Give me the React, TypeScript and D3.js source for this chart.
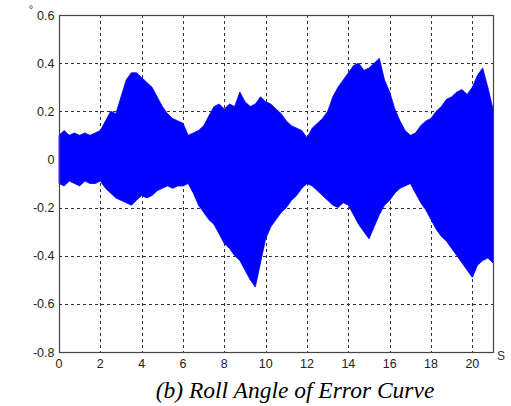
import React, { useEffect, useRef } from 'react';
import * as d3 from 'd3';

// time axis (s), sampled every 0.25 s
const times: number[] = d3.range(0, 21.001, 0.25).map(t => +t.toFixed(2));

// upper envelope of the roll angle error (deg)
const upper: number[] = [
  0.10, 0.12, 0.10, 0.11, 0.10, 0.11, 0.10, 0.11, 0.12, 0.16,
  0.20, 0.19, 0.26, 0.33, 0.36, 0.36, 0.34, 0.32, 0.30, 0.26,
  0.22, 0.19, 0.17, 0.16, 0.15, 0.10, 0.11, 0.12, 0.14, 0.18,
  0.22, 0.23, 0.21, 0.23, 0.22, 0.28, 0.24, 0.22, 0.23, 0.26,
  0.24, 0.23, 0.21, 0.19, 0.16, 0.14, 0.13, 0.12, 0.09, 0.13,
  0.15, 0.17, 0.20, 0.26, 0.30, 0.33, 0.36, 0.39, 0.40, 0.37,
  0.38, 0.40, 0.42, 0.33, 0.28, 0.21, 0.16, 0.12, 0.10, 0.11,
  0.14, 0.16, 0.17, 0.20, 0.22, 0.25, 0.26, 0.28, 0.29, 0.27,
  0.30, 0.35, 0.38, 0.30, 0.21,
];

// lower envelope of the roll angle error (deg)
const lower: number[] = [
  -0.10, -0.11, -0.09, -0.10, -0.11, -0.09, -0.10, -0.10, -0.09, -0.12,
  -0.14, -0.16, -0.17, -0.18, -0.19, -0.17, -0.15, -0.16, -0.15, -0.13,
  -0.12, -0.11, -0.12, -0.11, -0.11, -0.10, -0.14, -0.19, -0.22, -0.25,
  -0.27, -0.31, -0.35, -0.37, -0.40, -0.42, -0.46, -0.50, -0.53, -0.43,
  -0.33, -0.28, -0.25, -0.22, -0.20, -0.17, -0.15, -0.12, -0.10, -0.11,
  -0.13, -0.15, -0.17, -0.19, -0.20, -0.18, -0.19, -0.23, -0.27, -0.30,
  -0.33, -0.28, -0.23, -0.19, -0.17, -0.14, -0.12, -0.11, -0.10, -0.14,
  -0.18, -0.21, -0.25, -0.29, -0.32, -0.34, -0.37, -0.40, -0.43, -0.46,
  -0.49, -0.44, -0.42, -0.41, -0.43,
];

const xTicks = [0, 2, 4, 6, 8, 10, 12, 14, 16, 18, 20];
const yTicks = [-0.8, -0.6, -0.4, -0.2, 0, 0.2, 0.4, 0.6];

const App = () => {
  const svgRef = useRef<SVGSVGElement>(null);

  useEffect(() => {
    if (!svgRef.current) return;
    const svg = d3.select(svgRef.current);
    svg.selectAll('*').remove();

    const left = 59, right = 493, top = 15, bottom = 352;

    const x = d3.scaleLinear().domain([0, 21]).range([left, right]);
    const y = d3.scaleLinear().domain([-0.8, 0.6]).range([bottom, top]);

    // grid
    const grid = svg.append('g')
      .attr('stroke', '#333')
      .attr('stroke-width', 1)
      .attr('stroke-dasharray', '3,3');
    grid.selectAll('line.v')
      .data(xTicks.filter(t => t > 0))
      .join('line')
      .attr('class', 'v')
      .attr('x1', d => Math.round(x(d)) + 0.5)
      .attr('x2', d => Math.round(x(d)) + 0.5)
      .attr('y1', top)
      .attr('y2', bottom);
    grid.selectAll('line.h')
      .data(yTicks.filter(t => t > -0.8 && t < 0.6))
      .join('line')
      .attr('class', 'h')
      .attr('x1', left)
      .attr('x2', right)
      .attr('y1', d => Math.round(y(d)) + 0.5)
      .attr('y2', d => Math.round(y(d)) + 0.5);

    // signal envelope
    const data = times.map((t, i) => ({ t, hi: upper[i], lo: lower[i] }));
    const area = d3.area<{ t: number; hi: number; lo: number }>()
      .x(d => x(d.t))
      .y0(d => y(d.lo))
      .y1(d => y(d.hi));
    svg.append('path')
      .datum(data)
      .attr('d', area)
      .attr('fill', '#0000ff')
      .attr('stroke', '#0000ff')
      .attr('stroke-width', 0.8);

    // frame
    svg.append('rect')
      .attr('x', left + 0.5)
      .attr('y', top + 0.5)
      .attr('width', right - left)
      .attr('height', bottom - top)
      .attr('fill', 'none')
      .attr('stroke', '#444')
      .attr('stroke-width', 1.2);

    // tick labels
    const font = 'Liberation Sans, Arial, sans-serif';
    svg.append('g')
      .selectAll('text')
      .data(xTicks)
      .join('text')
      .attr('x', d => x(d))
      .attr('y', bottom + 16)
      .attr('text-anchor', 'middle')
      .attr('font-family', font)
      .attr('font-size', 12.5)
      .attr('fill', '#222')
      .text(d => String(d));

    svg.append('g')
      .selectAll('text')
      .data(yTicks)
      .join('text')
      .attr('x', left - 4.5)
      .attr('y', d => y(d) + 4.5)
      .attr('text-anchor', 'end')
      .attr('font-family', font)
      .attr('font-size', 12.5)
      .attr('fill', '#222')
      .text(d => (d === 0 ? '0' : d.toFixed(1)));

    // units
    svg.append('text')
      .attr('x', 31)
      .attr('y', 13)
      .attr('text-anchor', 'middle')
      .attr('font-family', font)
      .attr('font-size', 11)
      .attr('fill', '#333')
      .text('°');
    svg.append('text')
      .attr('x', 501)
      .attr('y', 360)
      .attr('text-anchor', 'middle')
      .attr('font-family', font)
      .attr('font-size', 12)
      .attr('fill', '#333')
      .text('S');

    // caption
    svg.append('text')
      .attr('x', 295)
      .attr('y', 398)
      .attr('text-anchor', 'middle')
      .attr('font-family', 'Liberation Serif, Times New Roman, serif')
      .attr('font-style', 'italic')
      .attr('font-size', 23.5)
      .attr('fill', '#000')
      .text('(b) Roll Angle of Error Curve');
  }, []);

  return (
    <svg
      ref={svgRef}
      width={511}
      height={406}
      style={{ position: 'absolute', left: 0, top: 0, background: '#fff' }}
    />
  );
};

export default App;
